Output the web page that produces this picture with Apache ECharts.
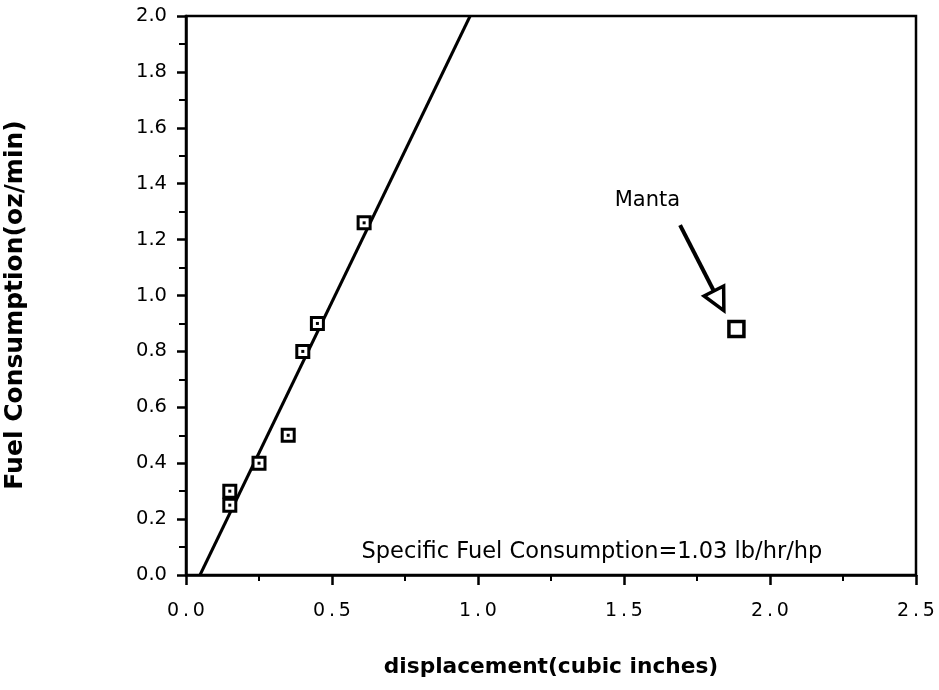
<!DOCTYPE html>
<html>
<head>
<meta charset="utf-8">
<script src="https://cdn.jsdelivr.net/npm/echarts@6/dist/echarts.min.js"></script>
<style>
  html, body { margin: 0; padding: 0; background: #fff; }
  #chart { width: 939px; height: 690px; }
</style>
</head>
<body>
<div id="chart"></div>
<script>
// Measured engines: displacement (cubic inches) vs fuel consumption (oz/min)
const engineDisp = [0.15, 0.15, 0.25, 0.35, 0.40, 0.45, 0.61];
const engineFuel = [0.30, 0.25, 0.40, 0.50, 0.80, 0.90, 1.26];

// The Manta engine, drawn with a larger marker
const mantaDisp = [1.885];
const mantaFuel = [0.88];

// Linear fit through the measured engines
const fitDisp = [0.048, 0.973];
const fitFuel = [0.0, 2.0];

// Annotation arrow (data coordinates): tail -> tip
const arrowDisp = [1.692, 1.842];
const arrowFuel = [1.252, 0.946];
const mantaLabelPos = [1.58, 1.34];
const sfcLabelPos = [1.39, 0.082];

const xTicks = { min: 0, max: 2.5, interval: 0.5 };
const yTicks = { min: 0, max: 2.0, interval: 0.2 };

const FONT = '"DejaVu Sans", "Liberation Sans", Arial, sans-serif';

const chart = echarts.init(document.getElementById('chart'));

const pairs = (xs, ys) => xs.map((x, i) => [x, ys[i]]);

chart.setOption({
  animation: false,
  backgroundColor: '#fff',
  grid: {
    left: 186, right: 23, top: 16, bottom: 115,
    show: true, borderColor: '#000', borderWidth: 2.5, backgroundColor: 'transparent'
  },
  graphic: [
    {
      // vertical axis title
      type: 'text',
      x: 15, y: 305,
      rotation: Math.PI / 2,
      style: {
        text: 'Fuel Consumption(oz/min)', fill: '#000',
        font: 'bold 25px ' + FONT, align: 'center', verticalAlign: 'middle'
      },
      z: 10
    }
  ],
  xAxis: {
    type: 'value',
    min: xTicks.min, max: xTicks.max, interval: xTicks.interval,
    name: 'displacement(cubic inches)',
    nameLocation: 'middle', nameGap: 81,
    nameTextStyle: { fontFamily: FONT, fontSize: 21.7, fontWeight: 'bold', color: '#000' },
    axisLine: { show: true, lineStyle: { color: '#000', width: 2.5 } },
    axisTick: { show: true, inside: false, length: 10, lineStyle: { color: '#000', width: 2.5 } },
    minorTick: { show: true, splitNumber: 2, length: 6, lineStyle: { color: '#000', width: 2 } },
    splitLine: { show: false },
    axisLabel: {
      margin: 27, fontFamily: FONT, fontSize: 19, color: '#000',
      formatter: v => v.toFixed(1).split('').join('\u2009')
    }
  },
  yAxis: {
    type: 'value',
    min: yTicks.min, max: yTicks.max, interval: yTicks.interval,
    axisLine: { show: true, lineStyle: { color: '#000', width: 2.5 } },
    axisTick: { show: true, inside: false, length: 9, lineStyle: { color: '#000', width: 2.5 } },
    minorTick: { show: true, splitNumber: 2, length: 7, lineStyle: { color: '#000', width: 2 } },
    splitLine: { show: false },
    axisLabel: {
      margin: 19, fontFamily: FONT, fontSize: 19.5, color: '#000',
      formatter: v => v.toFixed(1)
    }
  },
  series: [
    {
      type: 'line',
      data: pairs(fitDisp, fitFuel),
      showSymbol: false,
      lineStyle: { color: '#000', width: 3 },
      z: 2
    },
    {
      type: 'scatter',
      data: pairs(engineDisp, engineFuel),
      symbol: 'rect', symbolSize: 12,
      itemStyle: { color: '#fff', borderColor: '#000', borderWidth: 3, opacity: 1 },
      z: 3
    },
    {
      type: 'scatter',
      data: pairs(engineDisp, engineFuel),
      symbol: 'rect', symbolSize: 3,
      itemStyle: { color: '#000', opacity: 1 },
      z: 4
    },
    {
      type: 'scatter',
      data: pairs(mantaDisp, mantaFuel),
      symbol: 'rect', symbolSize: 15,
      itemStyle: { color: '#fff', borderColor: '#000', borderWidth: 3.5, opacity: 1 },
      z: 3
    },
    {
      // Annotations: "Manta" arrow and labels
      type: 'custom',
      data: [0],
      z: 5,
      renderItem: function (params, api) {
        const a = api.coord([arrowDisp[0], arrowFuel[0]]);
        const b = api.coord([arrowDisp[1], arrowFuel[1]]);
        const dx = b[0] - a[0], dy = b[1] - a[1];
        const len = Math.sqrt(dx * dx + dy * dy);
        const ux = dx / len, uy = dy / len;
        const headLen = 22, headHalf = 11;
        const base = [b[0] - ux * headLen, b[1] - uy * headLen];
        const p1 = [base[0] - uy * headHalf, base[1] + ux * headHalf];
        const p2 = [base[0] + uy * headHalf, base[1] - ux * headHalf];
        const m = api.coord(mantaLabelPos);
        const s = api.coord(sfcLabelPos);
        return {
          type: 'group',
          children: [
            { type: 'line', shape: { x1: a[0], y1: a[1], x2: base[0], y2: base[1] },
              style: { stroke: '#000', lineWidth: 4 } },
            { type: 'polygon', shape: { points: [b, p1, p2] },
              style: { fill: '#fff', stroke: '#000', lineWidth: 3.5, lineJoin: 'miter' } },
            { type: 'text', x: m[0], y: m[1],
              style: { text: 'Manta', fill: '#000', font: '21px ' + FONT, align: 'center', verticalAlign: 'middle' } },
            { type: 'text', x: s[0], y: s[1],
              style: { text: 'Specific Fuel Consumption=1.03 lb/hr/hp', fill: '#000', font: '22.5px ' + FONT, align: 'center', verticalAlign: 'middle' } }
          ]
        };
      }
    }
  ]
});
</script>
</body>
</html>
